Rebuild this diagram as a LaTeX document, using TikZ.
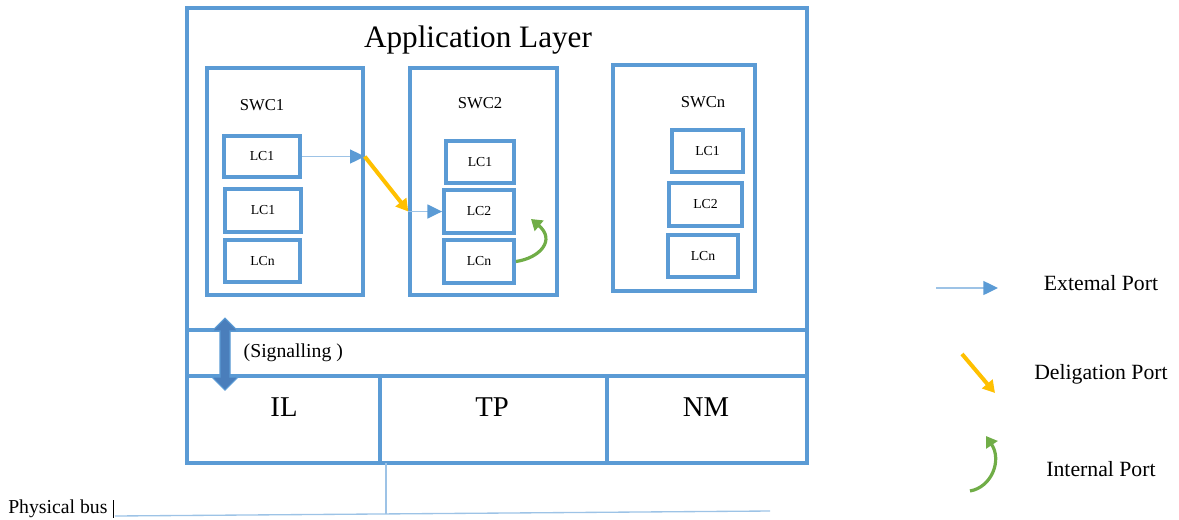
\documentclass[tikz,border=0pt]{standalone}
\usepackage{fontspec}
\setmainfont{Liberation Serif}
\usetikzlibrary{arrows.meta}
\definecolor{boxblue}{HTML}{5B9BD5}
\definecolor{lineblue}{HTML}{9DC3E6}
\definecolor{darkblue}{HTML}{4A7EBB}
\definecolor{portorange}{HTML}{FFC000}
\definecolor{portgreen}{HTML}{70AD47}
\begin{document}
\begin{tikzpicture}[x=0.75pt,y=-0.75pt,
  wh/.style 2 args={minimum width=#1*0.75pt, minimum height=#2*0.75pt},
  frame/.style={draw=boxblue, line width=2.6pt, inner sep=0pt},
  swcbox/.style={draw=boxblue, line width=2.6pt, inner sep=0pt},
  lcbox/.style={draw=boxblue, line width=2.9pt, inner sep=0pt, font=\fontsize{10.3}{12}\selectfont},
  swclabel/.style={font=\fontsize{12.5}{14}\selectfont},
  layerlabel/.style={font=\fontsize{21.5}{24}\selectfont},
  legendtext/.style={font=\fontsize{16.3}{19}\selectfont},
  extport/.style={draw=lineblue, line width=1pt,
    -{Triangle[length=11pt, width=10.5pt, fill=boxblue, color=boxblue]}},
  delport/.style={draw=portorange, line width=3pt,
    -{Triangle[length=9pt, width=10pt, fill=portorange]}},
  intport/.style={draw=portgreen, line width=2.4pt,
    -{Triangle[length=8pt, width=10pt, fill=portgreen]}},
  busline/.style={draw=lineblue, line width=1pt}]
\useasboundingbox (0,0) rectangle (1179,519);

% outer frame: application layer, signalling band and the three lower layers
\node[frame, wh={620}{322}] (app) at (497,169) {};
\node[frame, wh={620}{46}] (sig) at (497,353) {};
\node[frame, wh={193}{87}] (il) at (283.5,419.5) {};
\node[frame, wh={227}{87}] (tp) at (493.5,419.5) {};
\node[frame, wh={200}{87}] (nm) at (707,419.5) {};

\node[font=\fontsize{23.4}{27}\selectfont] (apptitle) at (478,40) {Application Layer};
\node[anchor=west, font=\fontsize{14.8}{17}\selectfont] (sigtext) at (239,353) {(Signalling )};
\node[layerlabel] (iltext) at (284,407) {IL};
\node[layerlabel] (tptext) at (492,407) {TP};
\node[layerlabel] (nmtext) at (706,407) {NM};

% software components
\node[swcbox, wh={156}{227}] (swc1) at (285,181.5) {};
\node[swcbox, wh={147}{227}] (swc2) at (483.5,181.5) {};
\node[swcbox, wh={142}{226}] (swcn) at (684,178) {};
\node[swclabel] (swc1t) at (262,105) {SWC1};
\node[swclabel] (swc2t) at (480,103) {SWC2};
\node[swclabel] (swcnt) at (703,102) {SWCn};

% local components
\node[lcbox, wh={76}{41}] (a1) at (262,156.5) {LC1};
\node[lcbox, wh={76}{43}] (a2) at (263,210.5) {LC1};
\node[lcbox, wh={75}{42}] (a3) at (262.5,261) {LCn};
\node[lcbox, wh={68}{42}] (b1) at (480,162) {LC1};
\node[lcbox, wh={70}{43}] (b2) at (479,211.5) {LC2};
\node[lcbox, wh={70}{43}] (b3) at (479,261.5) {LCn};
\node[lcbox, wh={71}{42}] (c1) at (707.5,151) {LC1};
\node[lcbox, wh={73}{43}] (c2) at (705.5,204.5) {LC2};
\node[lcbox, wh={70}{42}] (c3) at (703,256) {LCn};

% ports
\coordinate (p1) at (swc1.east |- a1.east);
\coordinate (p2) at (swc2.west |- b2.west);
\coordinate (q) at (531,219);
\draw[extport] (a1.east) -- (p1);
\draw[delport] (p1) -- (p2);
\draw[extport] (p2) -- (b2.west);
\draw[intport] (b3.east) .. controls (540,258) and (556,240) .. (q);

% signalling double arrow
\fill[darkblue, draw=boxblue, line width=0.8pt]
  (225,318) -- (238,331) -- (230,331) -- (230,377) -- (238,377) -- (225,390)
  -- (212,377) -- (220,377) -- (220,331) -- (212,331) -- cycle;

% physical bus
\coordinate (busL) at (115,516);
\coordinate (busR) at (770,511);
\coordinate (drop) at (386,513.5);
\node[anchor=west, font=\fontsize{14.8}{17}\selectfont, inner sep=0pt] (bustext) at (8,509) {Physical bus};
\draw[black, line width=0.6pt] (113,500) -- (113,518);
\draw[busline] (busL) -- (busR);
\draw[busline] (386,463) -- (drop);

% legend
\coordinate (e1) at (936,288);
\coordinate (e2) at (998,288);
\coordinate (d1) at (962,354);
\coordinate (d2) at (995,393);
\coordinate (i1) at (970,491);
\coordinate (i2) at (986,436);
\draw[extport] (e1) -- (e2);
\draw[delport] (d1) -- (d2);
\draw[intport] (i1) .. controls (992,487) and (1002,460) .. (i2);
\node[legendtext] (lext) at (1101,283) {Extemal Port};
\node[legendtext] (ldel) at (1101,374) {Deligation Port};
\node[legendtext] (lint) at (1101,469) {Internal Port};
\end{tikzpicture}
\end{document}
